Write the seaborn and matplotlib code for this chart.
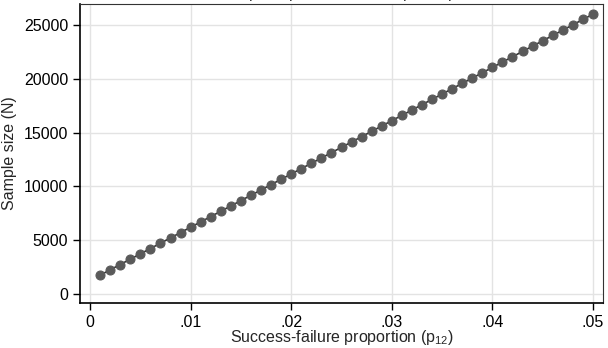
import numpy as np
import pandas as pd
import seaborn as sns
import matplotlib.pyplot as plt

# success-failure proportion p12 and required sample size N
p12 = [round(0.001 * k, 3) for k in range(1, 51)]
sample_size = [1750, 2245, 2740, 3235, 3730, 4225, 4720, 5215, 5710, 6205,
               6700, 7195, 7690, 8185, 8680, 9175, 9670, 10165, 10660, 11155,
               11650, 12145, 12640, 13135, 13630, 14125, 14620, 15115, 15610, 16105,
               16600, 17095, 17590, 18085, 18580, 19075, 19570, 20065, 20560, 21055,
               21550, 22045, 22540, 23035, 23530, 24025, 24520, 25015, 25510, 26005]
xticks = [0, 0.01, 0.02, 0.03, 0.04, 0.05]
xtick_labels = ['0', '.01', '.02', '.03', '.04', '.05']
yticks = [0, 5000, 10000, 15000, 20000, 25000]

df = pd.DataFrame({'p12': p12, 'N': sample_size})

sns.set_style('whitegrid')
plt.rcParams['font.family'] = ['Liberation Sans', 'DejaVu Sans']
plt.rcParams['mathtext.fontset'] = 'custom'
plt.rcParams['mathtext.rm'] = 'Liberation Sans'
plt.rcParams['mathtext.it'] = 'Liberation Sans'

fig = plt.figure(figsize=(6.08, 3.48), dpi=100)
ax = fig.add_axes([80 / 608, 1 - 303 / 348, 523 / 608, 299 / 348])

sns.lineplot(x='p12', y='N', data=df, ax=ax, color='#333333', linewidth=1.2,
             marker='o', markersize=6.5, markerfacecolor='#5a5a5a',
             markeredgecolor='#5a5a5a')

ax.set_xlim(-0.001, 0.051)
ax.set_ylim(-836, 26950)
ax.set_xticks(xticks)
ax.set_xticklabels(xtick_labels)
ax.set_yticks(yticks)
ax.grid(True, color='#e3e3e3', linewidth=1.0)
for side in ['top', 'right']:
    ax.spines[side].set_color('#333333')
    ax.spines[side].set_linewidth(0.8)
for side in ['left', 'bottom']:
    ax.spines[side].set_color('black')
    ax.spines[side].set_linewidth(1.2)
ax.tick_params(axis='both', direction='out', length=5, width=1, color='black',
               labelsize=11.5, labelcolor='black', left=True, bottom=True)
ax.set_xlabel('Success-failure proportion (p$_{12}$)', fontsize=11.5, labelpad=-1)
ax.set_ylabel('Sample size (N)', fontsize=11.5, labelpad=5)

# subtitle mostly cut off above the figure edge, as in the reference
fig.text(346 / 608, 1.0055,
         r'H$_0$: p$_{21}$ = p$_{12}$  versus  H$_a$: p$_{21}$ $\neq$ p$_{12}$',
         ha='center', va='baseline', fontsize=11.5)

fig.savefig('out.png', dpi=100)
